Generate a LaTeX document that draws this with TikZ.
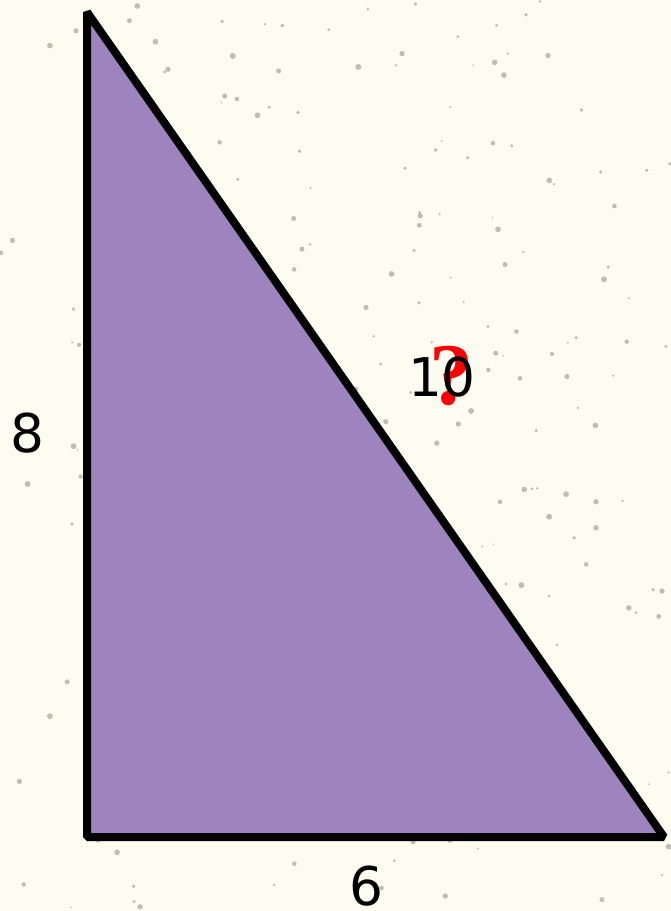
\documentclass[tikz,border=0pt]{standalone}
\usepackage{fontspec}
\setmainfont{DejaVu Sans}
\newfontfamily\qfont{Liberation Serif}
\usepackage{tikz}
\tikzset{every picture/.style={line width=0.75pt}}
\definecolor{paper}{RGB}{252,252,240}
\definecolor{lilac}{RGB}{158,132,190}
\tikzset{
  sidelabel/.style={font=\fontsize{40}{44}\selectfont, text=black, inner sep=0pt},
  asklabel/.style={font=\qfont\bfseries\fontsize{66}{70}\selectfont, text=red, inner sep=0pt}
}

\begin{document}
\begin{tikzpicture}[x=0.75pt,y=0.75pt,yscale=-1,xscale=1]
%set diagram to the 671 x 911 page
\useasboundingbox (0,0) rectangle (671,911);
\fill[paper] (0,0) rectangle (671,911);

%Speckles on the paper
\pgfmathsetseed{4217}
\foreach \i in {1,...,260} {
  \pgfmathsetmacro{\px}{rnd*671}
  \pgfmathsetmacro{\py}{rnd*911}
  \pgfmathsetmacro{\pr}{0.8+rnd*2.2}
  \fill[black!55, opacity=0.45] (\px,\py) circle [radius=\pr];
}

%Corners of the triangle
\coordinate (apex) at (87,12);
\coordinate (corner) at (87,837);
\coordinate (tip) at (664,837);

%Shape: Triangle
\draw[line width=6pt, line join=bevel, fill=lilac] (apex) -- (corner) -- (tip) -- cycle;

%Side labels
\node[sidelabel] (leg8) at (27,433) {8};
\node[sidelabel] (leg6) at (366,886) {6};
\node[asklabel] (ask) at (451,376) {?};
\node[sidelabel] (hyp) at (442,377) {10};
\end{tikzpicture}
\end{document}
